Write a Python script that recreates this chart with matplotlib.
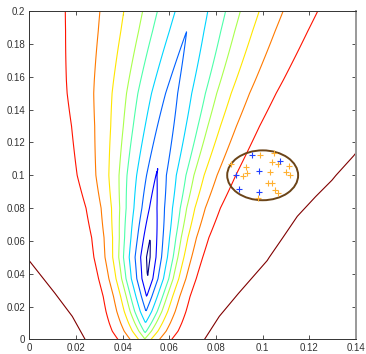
import numpy as np
import matplotlib
matplotlib.use("Agg")
import matplotlib.pyplot as plt
from matplotlib.patches import Ellipse

# ---------------------------------------------------------------------
# Surface (ridge centre, ridge floor, cone width)
# ---------------------------------------------------------------------
center_y = [0.0, 0.05, 0.10, 0.15, 0.20]
center_x = [0.0495, 0.051, 0.0545, 0.061, 0.0695]

ridge_y = [0.0, 0.005, 0.01, 0.017, 0.026, 0.037, 0.05, 0.062, 0.08, 0.10, 0.13, 0.158, 0.188, 0.20]
ridge_v = [0.148, 0.11, 0.082, 0.046, 0.012, -0.024, -0.035, -0.024, -0.005, 0.01, 0.022, 0.034, 0.046, 0.05]
width_s = [0.077, 0.075, 0.072, 0.068, 0.065, 0.065, 0.07, 0.078, 0.095, 0.118, 0.146, 0.176, 0.206, 0.218]

levels = [-0.024, 0.012, 0.046, 0.082, 0.117, 0.146, 0.183, 0.23, 0.298]

# outermost (dark red) contour: half width around the ridge
outer_y = [0.0, 0.014, 0.028, 0.048, 0.062, 0.075, 0.087, 0.097, 0.112, 0.20]
outer_hw = [0.0256, 0.0315, 0.0393, 0.051, 0.0568, 0.0621, 0.0691, 0.0754, 0.083, 0.12]

# points inside the circle
blue_x = [0.0953, 0.1075, 0.0986, 0.0885, 0.0899, 0.0986]
blue_y = [0.1124, 0.1089, 0.1026, 0.1002, 0.0915, 0.0896]
orange_x = [0.0989, 0.1050, 0.0865, 0.0928, 0.1042, 0.1067, 0.1113, 0.0932, 0.1032,
            0.1099, 0.0917, 0.1024, 0.1042, 0.1053, 0.1065, 0.0982, 0.1117]
orange_y = [0.1126, 0.1134, 0.1069, 0.1049, 0.1079, 0.1067, 0.1057, 0.1016, 0.1018,
            0.1018, 0.0996, 0.0955, 0.0951, 0.0910, 0.0894, 0.0860, 0.1002]

circle_center = (0.1, 0.1)
circle_radius = 0.0152

# ---------------------------------------------------------------------
# Grid
# ---------------------------------------------------------------------
xg = np.linspace(0, 0.14, 500)
yg = np.linspace(0, 0.2, 500)
X, Y = np.meshgrid(xg, yg)
C = np.interp(Y, center_y, center_x)
V = np.interp(Y, ridge_y, ridge_v)
S = np.interp(Y, ridge_y, width_s)
Z = np.abs(X - C) / S + V
Z_outer = np.abs(X - C) / np.interp(Y, outer_y, outer_hw)

# ---------------------------------------------------------------------
# Plot
# ---------------------------------------------------------------------
plt.rcParams["font.family"] = ["Liberation Sans", "DejaVu Sans"]
fig = plt.figure(figsize=(3.66, 3.54), dpi=100)
ax = fig.add_axes([0.080, 0.0415, 0.8927, 0.9266])

colors = plt.cm.jet(np.linspace(0, 1, len(levels) + 1))
ax.contour(X, Y, Z, levels=levels, colors=colors[:-1], linewidths=0.8)
ax.contour(X, Y, Z_outer, levels=[1.0], colors=[colors[-1]], linewidths=0.8)

ax.add_patch(Ellipse(circle_center, 2 * circle_radius, 2 * circle_radius,
                     fill=False, edgecolor="#6b4418", linewidth=1.4, zorder=3))
ax.plot(orange_x, orange_y, "+", color="#ffb030", markersize=4.5, mew=0.8, zorder=4)
ax.plot(blue_x, blue_y, "+", color="#2040ff", markersize=4.5, mew=0.8, zorder=4)

ax.set_xlim(0, 0.14)
ax.set_ylim(0, 0.2)
ax.set_xticks(np.arange(0, 0.1401, 0.02))
ax.set_yticks(np.arange(0, 0.2001, 0.02))
ax.set_xticklabels([f"{v:g}" for v in np.round(np.arange(0, 0.1401, 0.02), 2)])
ax.set_yticklabels([f"{v:g}" for v in np.round(np.arange(0, 0.2001, 0.02), 2)])
ax.tick_params(direction="in", top=True, right=True, length=3, width=0.6,
               labelsize=7, colors="#333333", pad=3)
for side in ["left", "bottom", "top"]:
    ax.spines[side].set_color("#333333")
    ax.spines[side].set_linewidth(0.7)
ax.spines["right"].set_color("#999999")
ax.spines["right"].set_linewidth(1.4)

fig.savefig("out.png", dpi=100)
